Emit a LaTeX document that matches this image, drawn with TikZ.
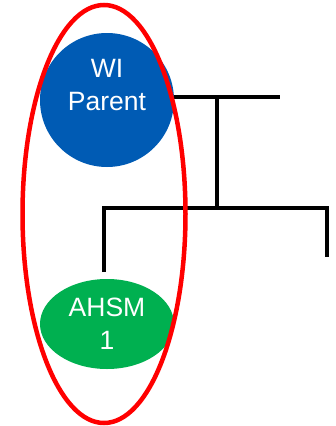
\documentclass[tikz,border=0pt]{standalone}
\usepackage{fontspec}
\setmainfont{Liberation Sans}
\usetikzlibrary{shapes.geometric}
\definecolor{wiblue}{RGB}{0,91,180}
\definecolor{ahgreen}{RGB}{0,176,80}
\tikzset{
  lbl/.style={text=white, align=center, inner sep=0pt, font=\fontsize{26.5}{33}\selectfont},
  tree/.style={line width=4pt, black},
  grp/.style={draw=red, line width=4.5pt, ellipse, inner sep=0pt}
}
\begin{document}
\begin{tikzpicture}[x=1pt,y=-1pt]
\useasboundingbox (0,0) rectangle (335,426);
\node[circle, fill=wiblue, minimum size=134pt, inner sep=0pt,
  label={[lbl, name=wilabel, yshift=15pt]center:WI\\Parent}] (wi) at (107,100) {};
\node[ellipse, fill=ahgreen, minimum width=134pt, minimum height=90pt, lbl] (ahsm) at (107,324) {AHSM\\1};
\coordinate (tEnd) at (280,97);
\coordinate (j1) at (217,97);
\coordinate (j2) at (217,208);
\coordinate (bl) at (104,208);
\coordinate (br) at (327,208);
\coordinate (ld) at (104,272);
\coordinate (rd) at (327,257);
\draw[tree] (wi.east |- tEnd) -- (tEnd);
\draw[tree] (j1) -- (j2);
\draw[tree] (ld) -- (bl) -- (br) -- (rd);
\node[grp, minimum width=163pt, minimum height=418pt] (group) at (104,214) {};
\end{tikzpicture}
\end{document}
